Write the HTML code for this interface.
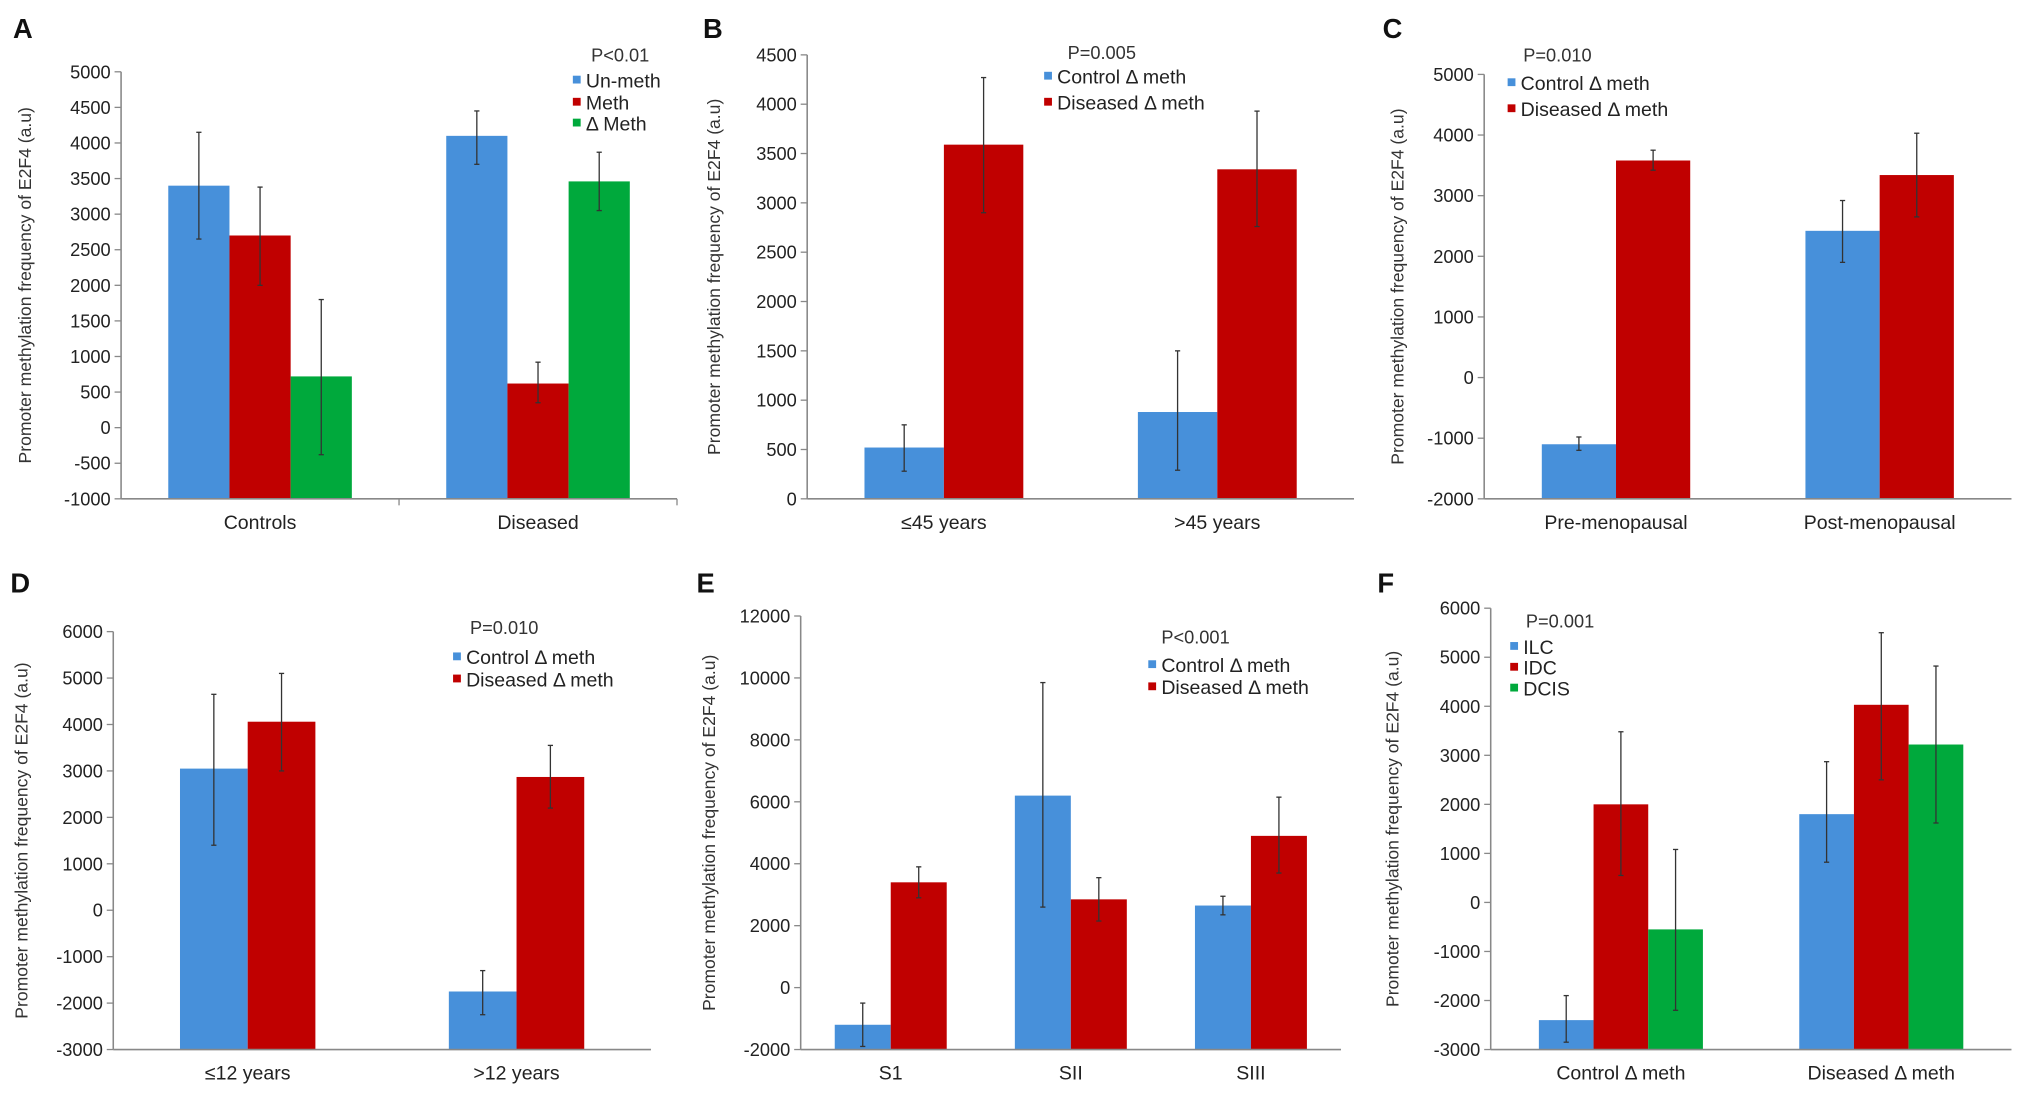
<!DOCTYPE html>
<html><head><meta charset="utf-8"><style>
html,body{margin:0;padding:0;background:#fff}
svg{display:block;font-family:"Liberation Sans",Arial,sans-serif}
</style></head><body>
<svg id="fig" width="2031" height="1094" viewBox="0 0 1560 840" xmlns="http://www.w3.org/2000/svg"></svg>
<script>
const COLORS=["#4790da","#c00000","#00a93c"];
// Panel A
const catsA=["Controls","Diseased"];
const seriesA=["Un-meth","Meth","Δ Meth"];
const valsA=[[3400,4100],[2700,620],[720,3460]];
const lowA=[[2650,3700],[2000,350],[-380,3050]];
const highA=[[4150,4450],[3380,920],[1800,3870]];
const ticksA=[-1000,-500,0,500,1000,1500,2000,2500,3000,3500,4000,4500,5000];
// Panel B
const catsB=["≤45 years",">45 years"];
const seriesB=["Control Δ meth","Diseased Δ meth"];
const valsB=[[520,880],[3590,3340]];
const lowB=[[280,290],[2900,2760]];
const highB=[[750,1500],[4270,3930]];
const ticksB=[0,500,1000,1500,2000,2500,3000,3500,4000,4500];
// Panel C
const catsC=["Pre-menopausal","Post-menopausal"];
const seriesC=["Control Δ meth","Diseased Δ meth"];
const valsC=[[-1100,2420],[3580,3340]];
const lowC=[[-1200,1900],[3420,2650]];
const highC=[[-980,2920],[3750,4030]];
const ticksC=[-2000,-1000,0,1000,2000,3000,4000,5000];
// Panel D
const catsD=["≤12 years",">12 years"];
const seriesD=["Control Δ meth","Diseased Δ meth"];
const valsD=[[3050,-1750],[4060,2870]];
const lowD=[[1400,-2250],[3000,2200]];
const highD=[[4650,-1300],[5100,3550]];
const ticksD=[-3000,-2000,-1000,0,1000,2000,3000,4000,5000,6000];
// Panel E
const catsE=["S1","SII","SIII"];
const seriesE=["Control Δ meth","Diseased Δ meth"];
const valsE=[[-1200,6200,2650],[3400,2850,4900]];
const lowE=[[-1900,2600,2350],[2900,2150,3700]];
const highE=[[-500,9850,2950],[3900,3550,6150]];
const ticksE=[-2000,0,2000,4000,6000,8000,10000,12000];
// Panel F
const catsF=["Control Δ meth","Diseased Δ meth"];
const seriesF=["ILC","IDC","DCIS"];
const valsF=[[-2400,1800],[2000,4030],[-550,3220]];
const lowF=[[-2850,820],[550,2500],[-2200,1620]];
const highF=[[-1900,2870],[3480,5500],[1080,4820]];
const ticksF=[-3000,-2000,-1000,0,1000,2000,3000,4000,5000,6000];

const NS="http://www.w3.org/2000/svg";
const svg=document.getElementById('fig');
function mk(tag,attrs,parent,text){const e=document.createElementNS(NS,tag);for(const k in attrs)e.setAttribute(k,attrs[k]);if(text!==undefined)e.textContent=text;parent.appendChild(e);return e;}

function panel(cfg){
  const g=mk('g',{},svg);
  
  
  const t=cfg.ticks,min=t[0],max=t[t.length-1];
  const y=v=>cfg.bottom-(v-min)/(max-min)*(cfg.bottom-cfg.top);
  const L=mk('text',{x:cfg.lx,y:cfg.ly,'font-size':21,'font-weight':'bold',fill:'#111'},g,cfg.letter);
  
  
  const yt=mk('text',{x:0,y:0,'font-size':13.5,fill:'#333','text-anchor':'middle',transform:`translate(${cfg.ytx},${(cfg.top+cfg.bottom)/2}) rotate(-90)`},g,'Promoter methylation frequency of E2F4 (a.u)');
  
  
  t.forEach(v=>{
    const tl=mk('text',{x:cfg.x0-8,y:y(v)+5,'font-size':14,fill:'#222','text-anchor':'end'},g,String(v));
    
    
    mk('line',{x1:cfg.x0-5,x2:cfg.x0,y1:y(v),y2:y(v),stroke:'#888','stroke-width':1},g);
  });
  const n=cfg.cats.length,cw=(cfg.x1-cfg.x0)/n;
  const ns=cfg.series.length;
  const base=y(min);
  cfg.cats.forEach((c,i)=>{
    const cx=cfg.x0+cw*(i+0.5);
    const cl=mk('text',{x:cx,y:cfg.bottom+23,'font-size':15,fill:'#222','text-anchor':'middle'},g,c);
    
    
    cfg.series.forEach((s,j)=>{
      const bx=cx-ns*cfg.bw/2+j*cfg.bw;
      const v=cfg.vals[j][i];
      const r=mk('rect',{x:bx,y:Math.min(y(v),base),width:cfg.bw,height:Math.abs(y(v)-base),fill:COLORS[j]},g);
      
      
      const ex=bx+cfg.bw/2;
      const el=mk('line',{x1:ex,x2:ex,y1:y(cfg.low[j][i]),y2:y(cfg.high[j][i]),stroke:'#333','stroke-width':1},g);
      
      
      mk('line',{x1:ex-2,x2:ex+2,y1:y(cfg.low[j][i]),y2:y(cfg.low[j][i]),stroke:'#333','stroke-width':1},g);
      mk('line',{x1:ex-2,x2:ex+2,y1:y(cfg.high[j][i]),y2:y(cfg.high[j][i]),stroke:'#333','stroke-width':1},g);
    });
  });
  mk('line',{x1:cfg.x0,x2:cfg.x0,y1:cfg.top,y2:cfg.bottom,stroke:'#888','stroke-width':1.2},g);
  const xa=mk('line',{x1:cfg.x0,x2:cfg.x1,y1:cfg.bottom,y2:cfg.bottom,stroke:'#888','stroke-width':1.2},g);
  
  
  if(cfg.sep){for(let i=1;i<=n;i++){const sx=cfg.x0+cw*i;mk('line',{x1:sx,x2:sx,y1:cfg.bottom,y2:cfg.bottom+5,stroke:'#888'},g);}}
  const p=mk('text',{x:cfg.px,y:cfg.py,'font-size':14,fill:'#333'},g,cfg.p);
  
  
  cfg.series.forEach((s,j)=>{
    const ly=cfg.legY[j];
    const m=mk('rect',{x:cfg.legX,y:ly-9,width:6,height:6,fill:COLORS[j]},g);
    
    
    const lt=mk('text',{x:cfg.legX+10,y:ly,'font-size':15,fill:'#222'},g,s);
    
    
  });
}
panel({letter:'A',lx:10,ly:29,ytx:24,x0:93,x1:520,top:55,bottom:383,ticks:ticksA,cats:catsA,series:seriesA,vals:valsA,low:lowA,high:highA,bw:47,sep:true,p:'P<0.01',px:454,py:47,legX:440,legY:[67,84,100]});
panel({letter:'B',lx:540,ly:29,ytx:553,x0:620,x1:1040,top:42,bottom:383,ticks:ticksB,cats:catsB,series:seriesB,vals:valsB,low:lowB,high:highB,bw:61,p:'P=0.005',px:820,py:45,legX:802,legY:[64,84]});
panel({letter:'C',lx:1062,ly:29,ytx:1078,x0:1140,x1:1545,top:57,bottom:383,ticks:ticksC,cats:catsC,series:seriesC,vals:valsC,low:lowC,high:highC,bw:57,p:'P=0.010',px:1170,py:47,legX:1158,legY:[69,89]});
panel({letter:'D',lx:8,ly:455,ytx:21,x0:87,x1:500,top:485,bottom:806,ticks:ticksD,cats:catsD,series:seriesD,vals:valsD,low:lowD,high:highD,bw:52,p:'P=0.010',px:361,py:487,legX:348,legY:[510,527]});
panel({letter:'E',lx:535,ly:455,ytx:549,x0:615,x1:1030,top:473,bottom:806,ticks:ticksE,cats:catsE,series:seriesE,vals:valsE,low:lowE,high:highE,bw:43,p:'P<0.001',px:892,py:494,legX:882,legY:[516,533]});
panel({letter:'F',lx:1058,ly:455,ytx:1074,x0:1145,x1:1545,top:467,bottom:806,ticks:ticksF,cats:catsF,series:seriesF,vals:valsF,low:lowF,high:highF,bw:42,p:'P=0.001',px:1172,py:482,legX:1160,legY:[502,518,534]});
</script>
</body></html>
